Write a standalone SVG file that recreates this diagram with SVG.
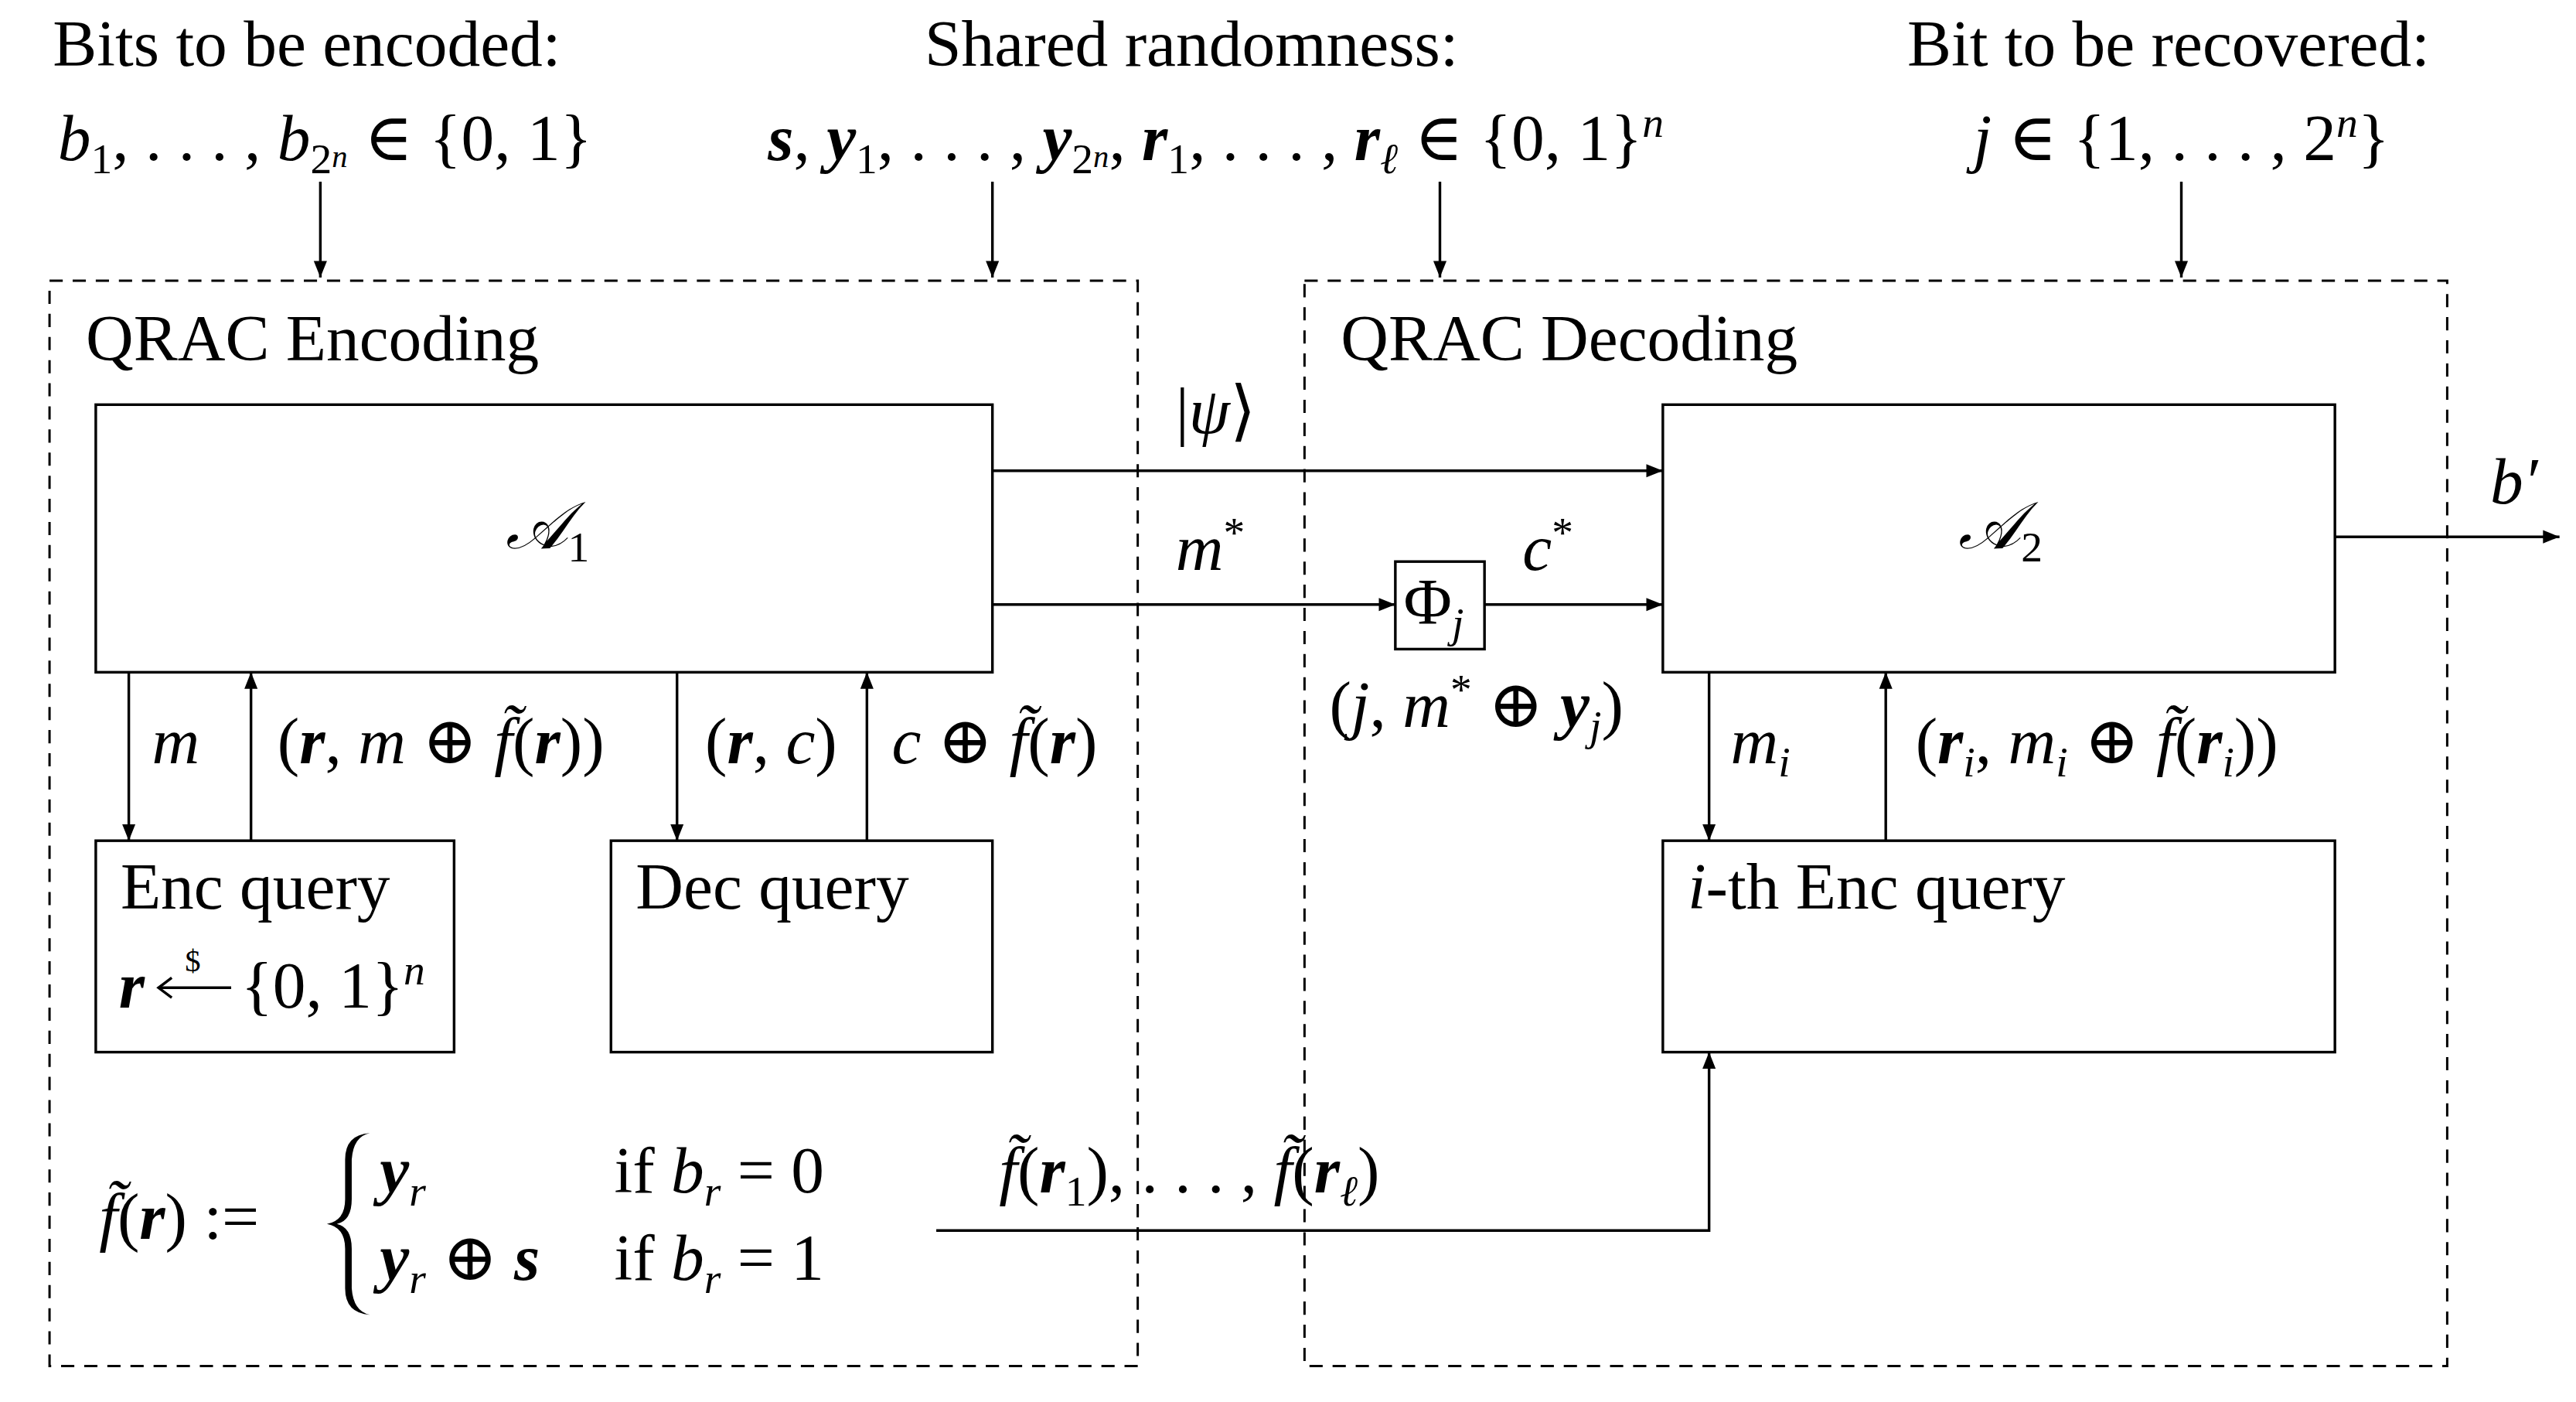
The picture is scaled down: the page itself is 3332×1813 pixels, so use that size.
<svg xmlns="http://www.w3.org/2000/svg" width="3332" height="1813" viewBox="0 0 3332 1813">
<defs>
<marker id="ah" viewBox="0 0 10 10" refX="10" refY="5" markerWidth="10" markerHeight="10" markerUnits="userSpaceOnUse" orient="auto"><path d="M0,1 L10,5 L0,9 z" fill="#000"/></marker>
</defs>
<style>
text{font-family:"Liberation Serif","DejaVu Serif",serif;font-size:40px;fill:#000}
.i{font-style:italic}
.b{font-weight:bold;font-style:italic}
.box{fill:none;stroke:#000;stroke-width:1.6}
.dash{fill:none;stroke:#000;stroke-width:1.4;stroke-dasharray:8,6}
.ln{fill:none;stroke:#000;stroke-width:1.6}
.ar{fill:none;stroke:#000;stroke-width:1.6;marker-end:url(#ah)}
.s{font-size:26px}
.t{font-size:19px}
</style>
<rect width="3332" height="1813" fill="#fff"/>
<g transform="scale(2.1359)">
<g id="labels-top">
<text x="32" y="40">Bits to be encoded:</text>
<text x="35" y="97"><tspan class="i">b</tspan><tspan class="s" dy="8">1</tspan><tspan dy="-8">, . . . , </tspan><tspan class="i">b</tspan><tspan class="s" dy="8">2</tspan><tspan class="i t" dy="-4">n</tspan><tspan dy="-4"> ∈ {0, 1}</tspan></text>
<text x="560" y="40">Shared randomness:</text>
<text x="465" y="97"><tspan class="b">s</tspan>, <tspan class="b">y</tspan><tspan class="s" dy="8">1</tspan><tspan dy="-8">, . . . , </tspan><tspan class="b">y</tspan><tspan class="s" dy="8">2</tspan><tspan class="i t" dy="-4">n</tspan><tspan dy="-4">, </tspan><tspan class="b">r</tspan><tspan class="s" dy="8">1</tspan><tspan dy="-8">, . . . , </tspan><tspan class="b">r</tspan><tspan class="s i" dy="8">ℓ</tspan><tspan dy="-8"> ∈ {0, 1}</tspan><tspan class="s i" dy="-14">n</tspan></text>
<text x="1155" y="40">Bit to be recovered:</text>
<text x="1195" y="97"><tspan class="i">j</tspan> ∈ {1, . . . , 2<tspan class="s i" dy="-14">n</tspan><tspan dy="14">}</tspan></text>
</g>
<g id="enc-region"><rect class="dash" x="30" y="170" width="659" height="657"/><text x="52" y="218">QRAC Encoding</text></g>
<g id="dec-region"><rect class="dash" x="790" y="170" width="692" height="657"/><text x="812" y="218">QRAC Decoding</text></g>
<g id="A1"><rect class="box" x="58" y="245" width="543" height="162"/><text x="306" y="332" class="i">𝒜<tspan class="s" font-style="normal" dy="8">1</tspan></text></g>
<g id="A2"><rect class="box" x="1007" y="245" width="407" height="162"/><text x="1186" y="332" class="i">𝒜<tspan class="s" font-style="normal" dy="8">2</tspan></text></g>
<g id="enc-query"><rect class="box" x="58" y="509" width="217" height="128"/><text x="73" y="550">Enc query</text>
<text x="72" y="610" class="b">r</text>
<line class="ln" x1="96" y1="598" x2="140" y2="598"/><path class="ln" d="M104,592 L96,598 L104,604"/>
<text x="112" y="588" class="t">$</text>
<text x="146" y="610">{0, 1}<tspan class="s i" dy="-14">n</tspan></text></g>
<g id="dec-query"><rect class="box" x="370" y="509" width="231" height="128"/><text x="385" y="550">Dec query</text></g>
<g id="ith-enc-query"><rect class="box" x="1007" y="509" width="407" height="128"/><text x="1022" y="550"><tspan class="i">i</tspan>-th Enc query</text></g>
<g id="phi"><rect class="box" x="845" y="340" width="54" height="53"/><text x="850" y="378">Φ<tspan class="s i" dy="8">j</tspan></text></g>
<g id="f-def">
<text x="60" y="750"><tspan class="i">f̃</tspan>(<tspan class="b">r</tspan>) :=</text>
<path d="M224,686 Q209,687 209,702 L209,726 Q209,739 198,741 Q209,743 209,756 L209,780 Q209,795 224,796 Q214,794 213,780 L213,756 Q213,743 204,741 Q213,739 213,726 L213,702 Q214,688 224,686 z" fill="#000"/>
<text x="230" y="722"><tspan class="b">y</tspan><tspan class="s i" dy="8">r</tspan></text>
<text x="372" y="722">if <tspan class="i">b</tspan><tspan class="s i" dy="8">r</tspan><tspan dy="-8"> = 0</tspan></text>
<text x="230" y="775"><tspan class="b">y</tspan><tspan class="s i" dy="8">r</tspan><tspan dy="-8"> ⊕ </tspan><tspan class="b">s</tspan></text>
<text x="372" y="775">if <tspan class="i">b</tspan><tspan class="s i" dy="8">r</tspan><tspan dy="-8"> = 1</tspan></text>
</g>
<g id="connectors">
<line class="ar" x1="194" y1="110" x2="194" y2="168"/>
<line class="ar" x1="601" y1="110" x2="601" y2="168"/>
<line class="ar" x1="872" y1="110" x2="872" y2="168"/>
<line class="ar" x1="1321" y1="110" x2="1321" y2="168"/>
<line class="ar" x1="601" y1="285" x2="1007" y2="285"/>
<line class="ar" x1="601" y1="366" x2="845" y2="366"/>
<line class="ar" x1="899" y1="366" x2="1007" y2="366"/>
<line class="ar" x1="1414" y1="325" x2="1550" y2="325"/>
<line class="ar" x1="78" y1="407" x2="78" y2="509"/>
<line class="ar" x1="152" y1="509" x2="152" y2="407"/>
<line class="ar" x1="410" y1="407" x2="410" y2="509"/>
<line class="ar" x1="525" y1="509" x2="525" y2="407"/>
<line class="ar" x1="1035" y1="407" x2="1035" y2="509"/>
<line class="ar" x1="1142" y1="509" x2="1142" y2="407"/>
<path class="ar" d="M567,745 L1035,745 L1035,637"/>
</g>
<g id="edge-labels">
<text x="712" y="262">|<tspan class="i">ψ</tspan>⟩</text>
<text x="712" y="345" class="i">m<tspan class="s" font-style="normal" dy="-14">*</tspan></text>
<text x="922" y="345" class="i">c<tspan class="s" font-style="normal" dy="-14">*</tspan></text>
<text x="805" y="440">(<tspan class="i">j</tspan>, <tspan class="i">m</tspan><tspan class="s" dy="-14">*</tspan><tspan dy="14"> ⊕ </tspan><tspan class="b">y</tspan><tspan class="s i" dy="8">j</tspan><tspan dy="-8">)</tspan></text>
<text x="1508" y="305" class="i">b′</text>
<text x="92" y="462" class="i">m</text>
<text x="168" y="462">(<tspan class="b">r</tspan>, <tspan class="i">m</tspan> ⊕ <tspan class="i">f̃</tspan>(<tspan class="b">r</tspan>))</text>
<text x="427" y="462">(<tspan class="b">r</tspan>, <tspan class="i">c</tspan>)</text>
<text x="540" y="462"><tspan class="i">c</tspan> ⊕ <tspan class="i">f̃</tspan>(<tspan class="b">r</tspan>)</text>
<text x="1048" y="462" class="i">m<tspan class="s" dy="8">i</tspan></text>
<text x="1160" y="462">(<tspan class="b">r</tspan><tspan class="s i" dy="8">i</tspan><tspan dy="-8">, </tspan><tspan class="i">m</tspan><tspan class="s i" dy="8">i</tspan><tspan dy="-8"> ⊕ </tspan><tspan class="i">f̃</tspan>(<tspan class="b">r</tspan><tspan class="s i" dy="8">i</tspan><tspan dy="-8">))</tspan></text>
<text x="605" y="722"><tspan class="i">f̃</tspan>(<tspan class="b">r</tspan><tspan class="s" dy="8">1</tspan><tspan dy="-8">), . . . , </tspan><tspan class="i">f̃</tspan>(<tspan class="b">r</tspan><tspan class="s i" dy="8">ℓ</tspan><tspan dy="-8">)</tspan></text>
</g>
</g>
</svg>
